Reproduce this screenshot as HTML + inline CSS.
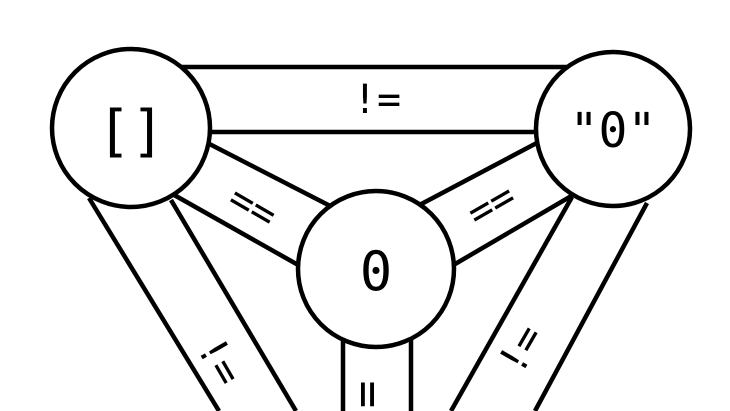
<!DOCTYPE html>
<html><head><style>html,body{margin:0;padding:0;background:#fff;width:730px;height:411px;overflow:hidden;}svg{display:block}</style></head>
<body>
<svg width="730" height="411" viewBox="0 0 730 411" xmlns="http://www.w3.org/2000/svg" style="overflow:hidden">
<defs><clipPath id="c"><rect x="0" y="0" width="730" height="411"/></clipPath></defs>
<g clip-path="url(#c)">
<g stroke="#000" stroke-width="4.5" fill="none">
<line x1="170" y1="67" x2="580" y2="67"/>
<line x1="200" y1="132" x2="545" y2="132"/>
<line x1="190" y1="134" x2="340" y2="211"/>
<line x1="160" y1="187" x2="300" y2="266"/>
<line x1="550" y1="136" x2="410" y2="210"/>
<line x1="585" y1="188" x2="450" y2="267"/>
<line x1="89" y1="198" x2="219" y2="411"/>
<line x1="171" y1="200" x2="296" y2="411"/>
<line x1="572" y1="197" x2="451" y2="411"/>
<line x1="647" y1="203" x2="535" y2="411"/>
<line x1="343" y1="330" x2="343" y2="411"/>
<line x1="411" y1="330" x2="411" y2="411"/>
</g>
<g stroke="#000" stroke-width="4.5" fill="#fff">
<circle cx="131" cy="128" r="79"/>
<circle cx="613" cy="129" r="77"/>
<circle cx="376" cy="269" r="78"/>
</g>
<g font-family="DejaVu Sans Mono, Liberation Mono, monospace" fill="#000" text-anchor="middle">
<text x="131" y="150" font-size="56">[]</text>
<text x="613" y="147" font-size="48">"0"</text>
<text x="376" y="290" font-size="54">0</text>
<text x="377" y="113" font-size="40">!=</text>
<text transform="translate(252,208) rotate(30)" font-size="40" y="12">==</text>
<text transform="translate(492,206) rotate(-30)" font-size="40" y="12">==</text>
<text transform="translate(218,362) rotate(60)" font-size="40" y="12">!=</text>
<text transform="translate(522,350) rotate(-60)" font-size="40" y="12">!=</text>
<text transform="translate(368,436) rotate(-90)" font-size="46" y="14" text-anchor="start">!=</text>
</g>
</g>
</svg>
</body></html>
